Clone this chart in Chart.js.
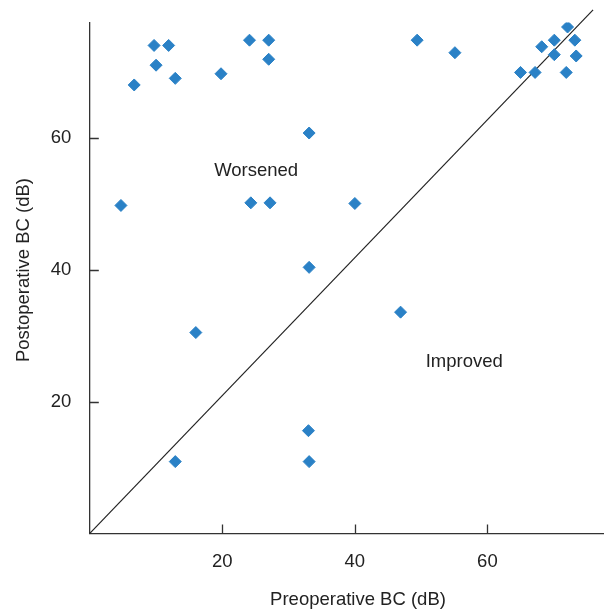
<!DOCTYPE html>
<html>
<head>
<meta charset="utf-8">
<script src="https://cdn.jsdelivr.net/npm/chart.js@4"></script>
<style>
  html, body { margin: 0; padding: 0; background: #fff; }
  #wrap { width: 604px; height: 613px; }
</style>
</head>
<body>
<div id="wrap"><canvas id="bcChart" width="604" height="613"></canvas></div>
<script>
// Preoperative vs postoperative bone conduction (dB), one entry per patient
const preBC  = [9.7, 11.9, 10.0, 12.9, 6.7, 19.8, 24.1, 27.0, 27.0, 49.4, 55.1,
                72.1, 70.1, 68.2, 73.2, 70.1, 73.4, 65.0, 67.2, 71.9,
                4.7, 33.1, 24.3, 27.2, 40.0, 33.1, 16.0, 46.9, 12.9, 33.0, 33.1];
const postBC = [74.1, 74.1, 71.1, 69.1, 68.1, 69.8, 74.9, 74.9, 72.0, 74.9, 73.0,
                76.9, 74.9, 73.9, 74.9, 72.7, 72.5, 70.0, 70.0, 70.0,
                49.8, 60.8, 50.2, 50.2, 50.1, 40.4, 30.5, 33.6, 10.9, 15.6, 10.9];

// reference diagonal
const diagX = [0, 75.95];
const diagY = [0, 79.5];

const tickValues = [20, 40, 60];
const axisMax = 77.6;

const xTitle = 'Preoperative BC (dB)';
const yTitle = 'Postoperative BC (dB)';
const regionLabels = ['Worsened', 'Improved'];
const regionX = [25.1, 56.5];
const regionY = [55.0, 26.0];

const FONT = '"Liberation Sans", Arial, Helvetica, sans-serif';
const TEXT = '#222';
const AXIS = '#333';

const extras = {
  id: 'extras',
  afterDraw(chart) {
    const { ctx, chartArea: a, scales: { x, y } } = chart;
    ctx.save();
    // inward tick marks
    ctx.strokeStyle = AXIS;
    ctx.lineWidth = 1.3;
    ctx.beginPath();
    tickValues.forEach(v => {
      const px = Math.round(x.getPixelForValue(v)) + 0.5;
      ctx.moveTo(px, a.bottom);
      ctx.lineTo(px, a.bottom - 9);
      const py = Math.round(y.getPixelForValue(v)) + 0.5;
      ctx.moveTo(a.left, py);
      ctx.lineTo(a.left + 9, py);
    });
    ctx.stroke();

    ctx.fillStyle = TEXT;
    ctx.font = '18.5px ' + FONT;
    ctx.textAlign = 'center';
    ctx.textBaseline = 'middle';
    regionLabels.forEach((t, i) => {
      ctx.fillText(t, x.getPixelForValue(regionX[i]), y.getPixelForValue(regionY[i]));
    });

    // axis titles
    ctx.fillText(xTitle, 358, 600);
    ctx.translate(24, 270);
    ctx.rotate(-Math.PI / 2);
    ctx.fillText(yTitle, 0, 0);
    ctx.restore();
  }
};

new Chart(document.getElementById('bcChart'), {
  type: 'scatter',
  data: {
    datasets: [
      {
        label: 'BC',
        data: preBC.map((v, i) => ({ x: v, y: postBC[i] })),
        pointStyle: 'rectRot',
        pointRadius: 6,
        borderWidth: 1,
        backgroundColor: '#2a81c6',
        borderColor: '#2a81c6'
      },
      {
        type: 'line',
        label: 'diagonal',
        data: diagX.map((v, i) => ({ x: v, y: diagY[i] })),
        borderColor: '#222',
        borderWidth: 1.2,
        pointRadius: 0,
        fill: false,
        clip: false
      }
    ]
  },
  options: {
    responsive: false,
    animation: false,
    layout: { autoPadding: false, padding: { top: 22.4, right: 0, left: 0, bottom: 0 } },
    plugins: { legend: { display: false }, tooltip: { enabled: false } },
    scales: {
      x: {
        type: 'linear', min: 0, max: axisMax,
        afterBuildTicks: s => { s.ticks = tickValues.map(v => ({ value: v })); },
        afterFit: s => { s.height = 79.6; s.paddingLeft = 0; s.paddingRight = 0; },
        grid: { display: false, drawTicks: false },
        border: { display: true, color: AXIS, width: 1.3 },
        ticks: { padding: 17, color: TEXT, maxRotation: 0, font: { family: FONT, size: 18.5 } }
      },
      y: {
        type: 'linear', min: 0, max: axisMax,
        afterBuildTicks: s => { s.ticks = tickValues.map(v => ({ value: v })); },
        afterFit: s => { s.width = 89.8; s.paddingTop = 0; s.paddingBottom = 0; },
        grid: { display: false, drawTicks: false },
        border: { display: true, color: AXIS, width: 1.3 },
        ticks: { padding: 18.5, color: TEXT, font: { family: FONT, size: 18.5 } }
      }
    }
  },
  plugins: [extras]
});
</script>
</body>
</html>
